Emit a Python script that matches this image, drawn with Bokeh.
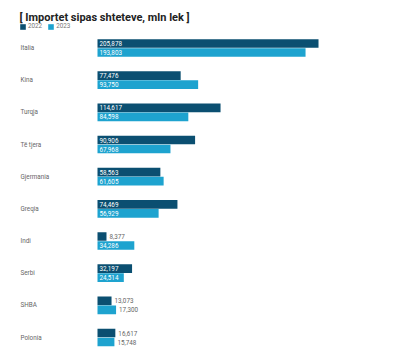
from bokeh.plotting import figure
from bokeh.models import ColumnDataSource, Range1d, Label, Legend, LegendItem
from bokeh.core.properties import value
from bokeh.embed import file_html
from bokeh.resources import INLINE

countries = ["Italia", "Kina", "Turqja", "Të tjera", "Gjermania", "Greqia", "Indi", "Serbi", "SHBA", "Polonia"]
v2022 = [205878, 77476, 114617, 90906, 58563, 74469, 8377, 32197, 13073, 16617]
v2023 = [193803, 93750, 84598, 67968, 61605, 56929, 34286, 24514, 17300, 15748]
years = ["2022", "2023"]
colors = ["#0b4f71", "#1ea3cf"]
title = "[ Importet sipas shteteve, mln lek ]"

W, H = 406, 350
FONT = value("Roboto")

p = figure(width=W, height=H, output_backend="svg", toolbar_location=None,
           min_border=0, x_axis_location=None, y_axis_location=None,
           outline_line_color=None)
p.grid.visible = False
p.x_range = Range1d(-90360, 287840)
p.y_range = Range1d(-9.404, 1.477)

rows = [-i for i in range(len(countries))]
off = 0.14
bh = 0.27

renderers = []
for k, (vals, col) in enumerate(zip([v2022, v2023], colors)):
    ys = [r + (off if k == 0 else -off) for r in rows]
    labels = [f"{v:,}" for v in vals]
    inside = [v > 20000 for v in vals]
    src = ColumnDataSource(dict(y=ys, v=vals, lab=labels))
    r = p.hbar(y="y", left=0, right="v", height=bh, source=src, fill_color=col, line_color=None)
    renderers.append(r)
    src_in = ColumnDataSource(dict(y=[y for y, ins in zip(ys, inside) if ins],
                                   lab=[l for l, ins in zip(labels, inside) if ins]))
    src_out = ColumnDataSource(dict(y=[y for y, ins in zip(ys, inside) if not ins],
                                    v=[v for v, ins in zip(vals, inside) if not ins],
                                    lab=[l for l, ins in zip(labels, inside) if not ins]))
    p.text(x=0, y="y", text="lab", source=src_in, x_offset=2, text_baseline="middle",
           text_align="left", text_font=FONT, text_font_size="6.3px", text_color="white")
    p.text(x="v", y="y", text="lab", source=src_out, x_offset=3, text_baseline="middle",
           text_align="left", text_font=FONT, text_font_size="6.3px", text_color="#666666")

csrc = ColumnDataSource(dict(y=rows, name=countries))
p.text(x=0, y="y", text="name", source=csrc, x_offset=-77, text_baseline="middle",
       text_align="left", text_font=FONT, text_font_size="6.3px", text_color="#666666")

p.add_layout(Label(x=19, y=H - 16.7, x_units="screen", y_units="screen", text=title,
                   text_font="Roboto", text_font_style="bold", text_font_size="11px",
                   text_color="#222222", text_baseline="alphabetic"))

legend = Legend(items=[LegendItem(label=y, renderers=[r]) for y, r in zip(years, renderers)],
                orientation="horizontal", location=(19, H - 30), glyph_width=7, glyph_height=7,
                label_text_font="Roboto", label_text_font_size="6.3px", label_text_color="#777777",
                label_standoff=2, label_height=7, label_width=14, spacing=5, padding=0, margin=0,
                border_line_color=None, background_fill_alpha=0)
p.add_layout(legend, "center")

open("out.html", "w").write(file_html(p, INLINE))
